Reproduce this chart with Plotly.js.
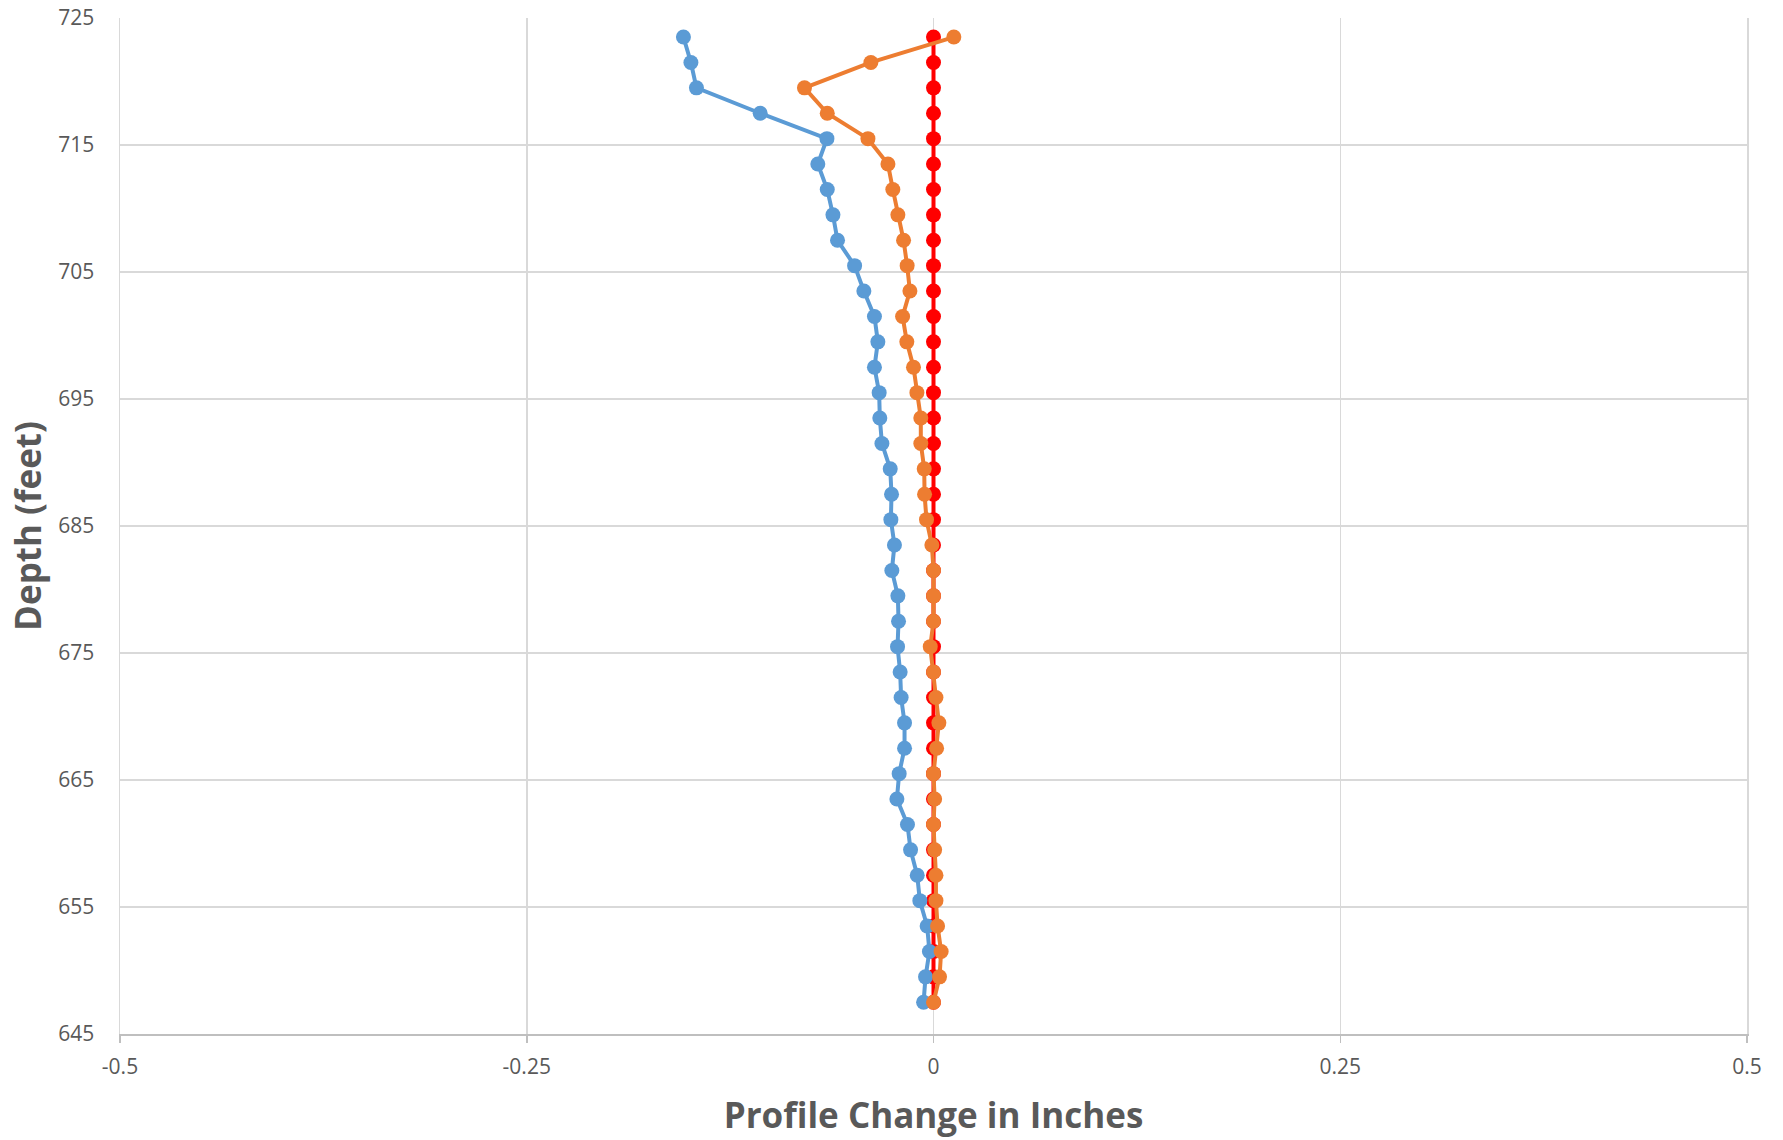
<!DOCTYPE html>
<html>
<head>
<meta charset="utf-8">
<script src="https://cdn.plot.ly/plotly-3.0.1.min.js"></script>
<style>
  html, body { margin: 0; padding: 0; background: #ffffff; }
  #chart { width: 1783px; height: 1140px; }
</style>
</head>
<body>
<div id="chart"></div>
<script>
// Depth of each reading (feet)
const depthFeet = [723.5, 721.5, 719.5, 717.5, 715.5, 713.5, 711.5, 709.5, 707.5, 705.5,
                   703.5, 701.5, 699.5, 697.5, 695.5, 693.5, 691.5, 689.5, 687.5, 685.5,
                   683.5, 681.5, 679.5, 677.5, 675.5, 673.5, 671.5, 669.5, 667.5, 665.5,
                   663.5, 661.5, 659.5, 657.5, 655.5, 653.5, 651.5, 649.5, 647.5];

// Profile change (inches) — blue series
const blueChange = [-0.1537, -0.1491, -0.1457, -0.1065, -0.0655, -0.0711, -0.0653, -0.0618, -0.0590, -0.0485,
                    -0.0428, -0.0363, -0.0342, -0.0363, -0.0334, -0.0330, -0.0317, -0.0266, -0.0258, -0.0262,
                    -0.0240, -0.0256, -0.0219, -0.0215, -0.0221, -0.0205, -0.0199, -0.0178, -0.0178, -0.0211,
                    -0.0225, -0.0160, -0.0141, -0.0100, -0.0084, -0.0039, -0.0025, -0.0049, -0.0061];

// Profile change (inches) — orange series
const orangeChange = [0.0125, -0.0385, -0.0793, -0.0653, -0.0403, -0.0280, -0.0250, -0.0219, -0.0184, -0.0162,
                      -0.0145, -0.0190, -0.0164, -0.0123, -0.0102, -0.0078, -0.0078, -0.0057, -0.0055, -0.0043,
                      -0.0010, 0.0000, 0.0000, 0.0000, -0.0020, 0.0000, 0.0015, 0.0033, 0.0019, 0.0000,
                      0.0007, 0.0000, 0.0007, 0.0015, 0.0015, 0.0025, 0.0047, 0.0037, 0.0000];

// Profile change (inches) — red (baseline) series
const redChange = [0, 0, 0, 0, 0, 0, 0, 0, 0, 0,
                   0, 0, 0, 0, 0, 0, 0, 0, 0, 0,
                   0, 0, 0, 0, 0, 0, 0, 0, 0, 0,
                   0, 0, 0, 0, 0, 0, 0, 0, 0];

// Axis ticks
const xTickVals = [-0.5, -0.25, 0, 0.25, 0.5];
const xTickText = ["-0.5", "-0.25", "0", "0.25", "0.5"];
const yTickVals = [645, 655, 665, 675, 685, 695, 705, 715, 725];
const yTickText = ["645", "655", "665", "675", "685", "695", "705", "715", "725"];

const xTitle = "Profile Change in Inches";
const yTitle = "Depth (feet)";

function series(x, color) {
  return {
    type: "scatter",
    mode: "lines+markers",
    x: x,
    y: depthFeet,
    line: { color: color, width: 4 },
    marker: { color: color, size: 15 },
    hoverinfo: "x+y",
    showlegend: false
  };
}

const data = [
  series(redChange, "#FF0000"),
  series(blueChange, "#5B9BD5"),
  series(orangeChange, "#ED7D31")
];

const textColor = "#595959";

const layout = {
  width: 1783,
  height: 1140,
  margin: { l: 120, r: 36, t: 18, b: 106, pad: 0 },
  paper_bgcolor: "#ffffff",
  plot_bgcolor: "#ffffff",
  font: { family: "Open Sans, sans-serif", color: textColor, size: 21 },
  showlegend: false,
  xaxis: {
    range: [-0.5, 0.5],
    tickmode: "array",
    tickvals: xTickVals,
    ticktext: xTickText,
    showgrid: true,
    gridcolor: "#D9D9D9",
    gridwidth: 1.5,
    zeroline: false,
    showline: true,
    linecolor: "#BFBFBF",
    linewidth: 2,
    ticks: "outside",
    ticklen: 7,
    tickwidth: 1.5,
    tickcolor: "#BFBFBF",
    tickfont: { family: "Open Sans, sans-serif", size: 21, color: textColor },
    ticklabelstandoff: 6,
    title: { text: xTitle, font: { family: "Open Sans, sans-serif", size: 35, color: textColor, weight: "bold" }, standoff: 24 },
    automargin: false,
    fixedrange: true
  },
  yaxis: {
    range: [645, 725],
    tickmode: "array",
    tickvals: yTickVals,
    ticktext: yTickText,
    showgrid: true,
    gridcolor: "#D9D9D9",
    gridwidth: 1.5,
    zeroline: false,
    showline: true,
    mirror: true,
    linecolor: "#D9D9D9",
    linewidth: 1.5,
    ticks: "",
    tickfont: { family: "Open Sans, sans-serif", size: 21, color: textColor },
    ticklabelstandoff: 20,
    title: { text: yTitle, font: { family: "Open Sans, sans-serif", size: 35, color: textColor, weight: "bold" }, standoff: 6 },
    automargin: false,
    fixedrange: true
  }
};

Plotly.newPlot("chart", data, layout, { displayModeBar: false, staticPlot: true });
</script>
</body>
</html>
